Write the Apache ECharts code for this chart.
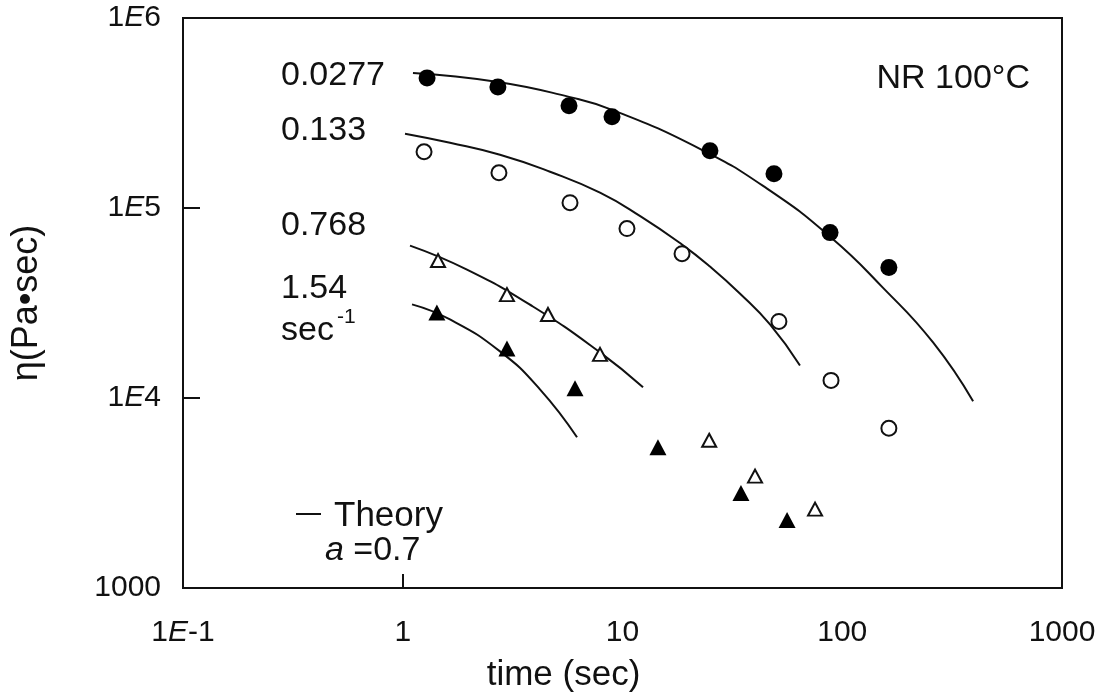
<!DOCTYPE html>
<html>
<head>
<meta charset="utf-8">
<script src="https://cdn.jsdelivr.net/npm/echarts@6/dist/echarts.min.js"></script>
<style>
html,body{margin:0;padding:0;background:#fff;}
#c{width:1118px;height:698px;}
</style>
</head>
<body>
<div id="c"></div>
<script>
// ---- data ----
const xTickValues = [0.1, 1, 10, 100, 1000];
const yTickValues = [1000, 1e4, 1e5, 1e6];

// shear rate 0.0277 sec^-1 (filled circles)
const t0277 = [1.29, 2.71, 5.71, 8.96, 25.0, 48.9, 88.0, 163];
const eta0277 = [4.84e5, 4.34e5, 3.45e5, 3.02e5, 2.0e5, 1.515e5, 7.42e4, 4.86e4];
// shear rate 0.133 (open circles)
const t0133 = [1.25, 2.74, 5.77, 10.48, 18.66, 51.5, 88.9, 163];
const eta0133 = [1.977e5, 1.533e5, 1.067e5, 7.79e4, 5.75e4, 2.53e4, 1.238e4, 6.93e3];
// shear rate 0.768 (open triangles)
const t0768 = [1.447, 2.98, 4.58, 7.90, 24.8, 40.1, 75.2];
const eta0768 = [5.29e4, 3.50e4, 2.75e4, 1.696e4, 5.99e3, 3.88e3, 2.60e3];
// shear rate 1.54 (filled triangles)
const t154 = [1.43, 2.98, 6.08, 14.5, 34.6, 56.1];
const eta154 = [2.82e4, 1.823e4, 1.124e4, 5.51e3, 3.16e3, 2.28e3];

// theory curves (a = 0.7)
const thT0277 = [1.113, 2.713, 5.71, 8.96, 22.5, 45.5, 88.9, 153, 259, 394];
const thEta0277 = [5.14e5, 4.61e5, 3.845e5, 3.286e5, 2.05e5, 1.264e5, 6.99e4, 3.81e4, 1.96e4, 9.6e3];
const thT0133 = [1.024, 1.641, 2.77, 4.68, 7.90, 12.14, 18.66, 25.0, 34.2, 46.9, 64.2];
const thEta0133 = [2.46e5, 2.204e5, 1.906e5, 1.552e5, 1.204e5, 9.0e4, 6.42e4, 4.92e4, 3.55e4, 2.44e4, 1.484e4];
const thT0768 = [1.079, 1.96, 3.91, 7.90, 12.4];
const thEta0768 = [6.34e4, 4.74e4, 3.03e4, 1.738e4, 1.138e4];
const thT154 = [1.102, 1.64, 2.77, 4.21, 6.21];
const thEta154 = [3.11e4, 2.59e4, 1.759e4, 1.111e4, 6.21e3];

const zip = (a, b) => a.map((v, i) => [v, b[i]]);

const FONT = '"Liberation Sans", Arial, Helvetica, sans-serif';
const chart = echarts.init(document.getElementById('c'), null, {renderer: 'canvas'});

function expLabel(v) {
  const e = Math.round(Math.log10(v));
  if (e === 0) return '1';
  if (e === 1) return '10';
  if (e === 2) return '100';
  if (e === 3) return '1000';
  return '1{i|E}' + e;
}

const lineSeries = (t, e) => ({
  type: 'line', data: zip(t, e), smooth: 0.5, symbol: 'none', z: 2,
  lineStyle: {color: '#111', width: 2}, silent: true
});

const option = {
  animation: false,
  backgroundColor: '#fff',
  grid: {left: 183, right: 56, top: 18, bottom: 109, show: true,
         borderColor: '#111', borderWidth: 2, backgroundColor: 'transparent'},
  xAxis: {
    type: 'log', logBase: 10, min: 0.1, max: 1000,
    name: 'time (sec)', nameLocation: 'middle', nameGap: 70,
    nameTextStyle: {fontFamily: FONT, fontSize: 35, color: '#111', padding: [0, 118, 0, 0]},
    axisLine: {show: true, lineStyle: {color: '#111', width: 2}},
    axisTick: {show: true, inside: true, length: 14, customValues: [1], lineStyle: {color: '#111', width: 2}},
    splitLine: {show: false},
    minorTick: {show: false},
    axisLabel: {
      customValues: xTickValues,
      margin: 30, fontFamily: FONT, fontSize: 30, color: '#111',
      formatter: expLabel,
      rich: {i: {fontFamily: FONT, fontSize: 30, fontStyle: 'italic', color: '#111'}}
    }
  },
  yAxis: {
    type: 'log', logBase: 10, min: 1000, max: 1e6,
    name: 'η(Pa•sec)', nameLocation: 'middle', nameGap: 138, nameRotate: 90,
    nameTextStyle: {fontFamily: FONT, fontSize: 36, color: '#111'},
    axisLine: {show: true, lineStyle: {color: '#111', width: 2}},
    axisTick: {show: true, inside: true, length: 17, customValues: [1e4, 1e5], lineStyle: {color: '#111', width: 2}},
    splitLine: {show: false},
    minorTick: {show: false},
    axisLabel: {
      customValues: yTickValues,
      margin: 22, fontFamily: FONT, fontSize: 30, color: '#111',
      formatter: expLabel,
      rich: {i: {fontFamily: FONT, fontSize: 30, fontStyle: 'italic', color: '#111'}}
    }
  },
  series: [
    lineSeries(thT0277, thEta0277),
    lineSeries(thT0133, thEta0133),
    lineSeries(thT0768, thEta0768),
    lineSeries(thT154, thEta154),
    {type: 'scatter', data: zip(t0277, eta0277), symbol: 'circle', symbolSize: 17, z: 5,
     itemStyle: {color: '#000', borderColor: '#000', borderWidth: 0, opacity: 1}},
    {type: 'scatter', data: zip(t0133, eta0133), symbol: 'circle', symbolSize: 15, z: 5,
     itemStyle: {color: '#fff', borderColor: '#111', borderWidth: 2, opacity: 1}},
    {type: 'scatter', data: zip(t0768, eta0768), symbol: 'triangle', symbolSize: [14, 13], z: 5,
     itemStyle: {color: '#fff', borderColor: '#111', borderWidth: 2, opacity: 1}},
    {type: 'scatter', data: zip(t154, eta154), symbol: 'triangle', symbolSize: [17, 16], z: 5,
     itemStyle: {color: '#000', borderColor: '#000', borderWidth: 0, opacity: 1}}
  ],
  graphic: [
    {type: 'text', left: 281, top: 59, style: {text: '0.0277', font: '34px ' + FONT, fill: '#111'}},
    {type: 'text', left: 281, top: 114, style: {text: '0.133', font: '34px ' + FONT, fill: '#111'}},
    {type: 'text', left: 281, top: 209, style: {text: '0.768', font: '34px ' + FONT, fill: '#111'}},
    {type: 'text', left: 281, top: 272, style: {text: '1.54', font: '34px ' + FONT, fill: '#111'}},
    {type: 'text', left: 281, top: 314, style: {text: 'sec', font: '34px ' + FONT, fill: '#111'}},
    {type: 'text', left: 337, top: 307, style: {text: '-1', font: '21px ' + FONT, fill: '#111'}},
    {type: 'text', right: 88, top: 62, style: {text: 'NR 100°C', font: '34px ' + FONT, fill: '#111'}},
    {type: 'line', shape: {x1: 296, y1: 514, x2: 321, y2: 514}, style: {stroke: '#111', lineWidth: 2}},
    {type: 'text', left: 334, top: 499, style: {text: 'Theory', font: '35px ' + FONT, fill: '#111'}},
    {type: 'text', left: 325, top: 534, style: {
      text: '{i|a} =0.7', font: '34px ' + FONT, fill: '#111',
      rich: {i: {font: 'italic 34px ' + FONT, fill: '#111'}}
    }}
  ]
};
chart.setOption(option);
</script>
</body>
</html>
